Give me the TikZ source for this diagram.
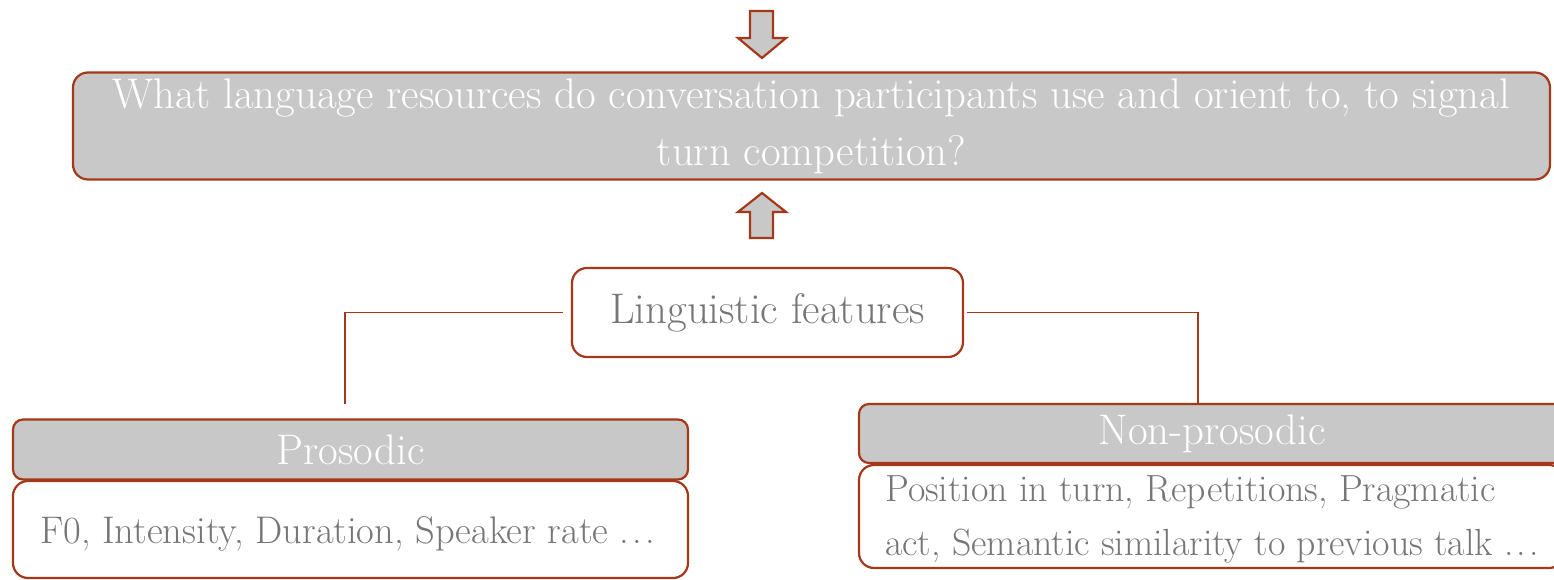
\documentclass[tikz,border=0pt]{standalone}
\definecolor{rust}{RGB}{164,56,24}
\definecolor{boxgray}{RGB}{200,200,200}
\definecolor{txtgray}{RGB}{118,118,118}
\tikzset{
  x=1pt, y=-1pt,
  bigbox/.style={draw=rust, line width=2.2pt, rounded corners=15pt, inner sep=0pt},
  graybox/.style={bigbox, fill=boxgray, text=white},
  whitebox/.style={bigbox, fill=white, text=txtgray},
  headbox/.style={draw=rust, line width=2.2pt, rounded corners=10pt, fill=boxgray, text=white, inner sep=0pt},
  bodybox/.style={draw=rust, line width=2.2pt, rounded corners=15pt, fill=white, inner sep=0pt},
  bodytext/.style={text=txtgray, align=left, inner sep=0pt, anchor=west},
  conn/.style={draw=rust, line width=1.4pt},
  blockarrow/.style={draw=rust, line width=2.2pt, fill=boxgray, line join=miter},
  bigfont/.style={font=\fontsize{38.5}{58}\selectfont},
  smallfont/.style={font=\fontsize{37.8}{58}\selectfont},
  headfont/.style={font=\fontsize{42.8}{58}\selectfont}
}
\newcommand{\myellipsis}{.\kern3pt.\kern3pt.}
\begin{document}
\begin{tikzpicture}
\useasboundingbox (0,0) rectangle (1554,580);
% top block arrow
\draw[blockarrow] (750,11) -- (773,11) -- (773,38) -- (786,38) -- (762,58) -- (738,38) -- (750,38) -- cycle;
% question box
\node[graybox, headfont, minimum width=1477pt, minimum height=107pt, align=center] (q) at (811.5,126)
  {What language resources do conversation participants use and orient to, to signal\\[-1pt]turn competition?};
% up block arrow
\draw[blockarrow] (750,238) -- (773,238) -- (773,212) -- (786,212) -- (762,193) -- (738,212) -- (750,212) -- cycle;
% linguistic features
\node[whitebox, headfont, minimum width=391pt, minimum height=89pt] (lf) at (767.5,312.5) {Linguistic features};
% prosodic
\node[headbox, headfont, minimum width=675pt, minimum height=60pt] (ph) at (350.5,449.5) {Prosodic};
\node[bodybox, minimum width=675pt, minimum height=97pt] (pb) at (350.5,529.5) {};
\node[bodytext, bigfont] (pt) at (40,534) {F0, Intensity, Duration, Speaker rate \myellipsis};
% non-prosodic
\node[headbox, minimum width=705pt, minimum height=59pt] (nh) at (1211.5,433.5) {};
\node[headfont, text=white, inner sep=0pt] (nht) at (1212,433.5) {Non-prosodic};
\node[bodybox, minimum width=705pt, minimum height=103pt] (nb) at (1211.5,516.5) {};
\node[bodytext, smallfont, text depth=0pt] (nt) at (885,516) {Position in turn, Repetitions, Pragmatic\\[-4pt]act, Semantic similarity to previous talk \myellipsis};
% connectors
\coordinate (pl) at (345,404);
\coordinate (pr) at (1198,404);
\draw[conn] ([xshift=-8pt]lf.west) -| (pl);
\draw[conn] ([xshift=3pt]lf.east) -| (pr);
\end{tikzpicture}
\end{document}
